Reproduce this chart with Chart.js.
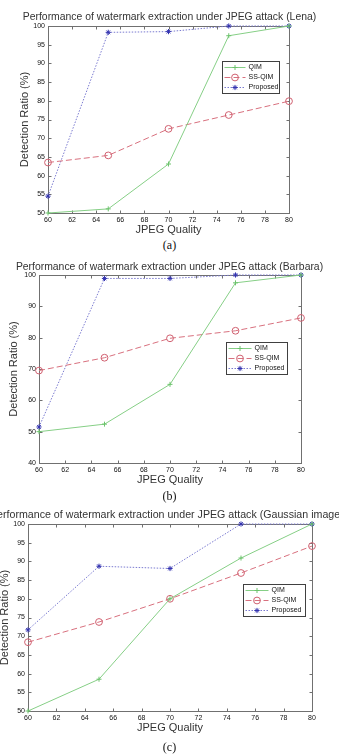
<!DOCTYPE html>
<html>
<head>
<meta charset="utf-8">
<script src="https://cdn.jsdelivr.net/npm/chart.js@4.4.1/dist/chart.umd.min.js"></script>
<style>
    html, body { margin: 0; padding: 0; background: #fff; width: 339px; height: 754px; overflow: hidden; }
    body { position: relative; }
    canvas { position: absolute; left: 0; }
    .cap { position: absolute; left: 0; width: 339px; text-align: center; font: 12px "Liberation Serif", "DejaVu Serif", serif; color: #111; line-height: 14px; }
</style>
</head>
<body>
<canvas id="chartA" width="339" height="238" style="top:0px"></canvas>
<div class="cap" style="top:238px">(a)</div>
<canvas id="chartB" width="339" height="236" style="top:254px"></canvas>
<div class="cap" style="top:489px">(b)</div>
<canvas id="chartC" width="359" height="235" style="top:503px;left:-10px"></canvas>
<div class="cap" style="top:740px">(c)</div>
<script>
/* ---- data ---- */
var jpegQuality = [60, 65, 70, 75, 80];
var seriesNames = ['QIM', 'SS-QIM', 'Proposed'];

var lenaQim      = [50, 51.1, 63.1, 97.4, 100];
var lenaSsQim    = [63.5, 65.4, 72.5, 76.2, 79.9];
var lenaProposed = [54.5, 98.3, 98.5, 100, 100];

var barbaraQim      = [50, 52.4, 65.1, 97.5, 100];
var barbaraSsQim    = [69.5, 73.6, 79.8, 82.2, 86.3];
var barbaraProposed = [51.5, 98.9, 98.9, 100, 100];

var gaussQim      = [50, 58.5, 80, 90.9, 100];
var gaussSsQim    = [68.4, 73.8, 80, 86.9, 94.1];
var gaussProposed = [71.7, 88.7, 88.1, 100, 100];

var xTicks = { min: 60, max: 80, step: 2 };

var FONT = '"Liberation Sans", Arial, sans-serif';

function pts(values) {
    return values.map(function (v, i) { return { x: jpegQuality[i], y: v }; });
}

/* box around the plot with inward ticks on all four sides (matlab look) */
var frameBox = {
    id: 'frameBox',
    beforeDatasetsDraw: function (chart) {
        var a = chart.chartArea, ctx = chart.ctx;
        var sx = chart.scales.x, sy = chart.scales.y;
        ctx.save();
        ctx.strokeStyle = '#707070';
        ctx.lineWidth = 1;
        var l = Math.round(a.left) + 0.5, t = Math.round(a.top) + 0.5;
        var r = Math.round(a.right) + 0.5, b = Math.round(a.bottom) + 0.5;
        ctx.strokeRect(l, t, r - l, b - t);
        ctx.beginPath();
        sx.ticks.forEach(function (tk) {
            var px = Math.round(sx.getPixelForValue(tk.value)) + 0.5;
            ctx.moveTo(px, b); ctx.lineTo(px, b - 3);
            ctx.moveTo(px, t); ctx.lineTo(px, t + 3);
        });
        sy.ticks.forEach(function (tk) {
            var py = Math.round(sy.getPixelForValue(tk.value)) + 0.5;
            ctx.moveTo(l, py); ctx.lineTo(l + 3, py);
            ctx.moveTo(r, py); ctx.lineTo(r - 3, py);
        });
        ctx.stroke();
        ctx.restore();
    }
};

/* legend box drawn inside the plot, line sample + marker like matlab */
var boxLegend = {
    id: 'boxLegend',
    afterDraw: function (chart, args, opts) {
        var a = chart.chartArea, ctx = chart.ctx;
        var sets = chart.data.datasets;
        var w = opts.width, rowH = 10, h = rowH * sets.length + 2;
        var right = Math.round(a.right - opts.right) + 0.5;
        var left = right - w;
        var top = Math.round(a.top + opts.top) + 0.5;
        ctx.save();
        ctx.fillStyle = '#fff';
        ctx.fillRect(left, top, w, h);
        ctx.strokeStyle = '#404040';
        ctx.lineWidth = 1;
        ctx.strokeRect(left, top, w, h);
        var lineLen = Math.round(w * 0.37);
        sets.forEach(function (ds, i) {
            var cy = top + 1 + rowH * (i + 0.5);
            ctx.strokeStyle = ds.borderColor;
            ctx.lineWidth = 1;
            ctx.setLineDash(ds.borderDash || []);
            ctx.beginPath();
            ctx.moveTo(left + 2, cy);
            ctx.lineTo(left + 2 + lineLen, cy);
            ctx.stroke();
            ctx.setLineDash([]);
            ctx.strokeStyle = ds.pointBorderColor || ds.borderColor;
            ctx.fillStyle = 'rgba(0,0,0,0)';
            Chart.helpers.drawPoint(ctx, {
                pointStyle: ds.pointStyle, radius: ds.pointRadius, rotation: 0, borderWidth: 1
            }, left + 2 + lineLen / 2, cy);
            ctx.fillStyle = '#111';
            ctx.font = '7px ' + FONT;
            ctx.textBaseline = 'middle';
            ctx.textAlign = 'left';
            ctx.fillText(ds.label, left + lineLen + 5, cy);
        });
        ctx.restore();
    }
};

function makeChart(id, title, qim, ss, prop, cfg) {
    var cv = document.getElementById(id);
    var W = cv.width, H = cv.height;
    var ts = cfg.titleSize || 10.4;
    return new Chart(cv.getContext('2d'), {
        type: 'line',
        data: {
            datasets: [
                { label: seriesNames[0], data: pts(qim), borderColor: '#86cf86', borderWidth: 1,
                  pointStyle: 'cross', pointRadius: 2.5, pointBorderColor: '#6cc36c', pointBorderWidth: 1,
                  tension: 0, clip: false },
                { label: seriesNames[1], data: pts(ss), borderColor: '#d8707e', borderWidth: 1,
                  borderDash: [6, 3], pointStyle: 'circle', pointRadius: 3.4,
                  pointBorderColor: '#d06070', pointBackgroundColor: 'rgba(0,0,0,0)', pointBorderWidth: 1,
                  tension: 0, clip: false },
                { label: seriesNames[2], data: pts(prop), borderColor: '#7a7ad0', borderWidth: 1,
                  borderDash: [1.5, 1.5], pointStyle: 'star', pointRadius: 2.6,
                  pointBorderColor: '#3434b0', pointBorderWidth: 1, tension: 0, clip: false }
            ]
        },
        options: {
            responsive: false,
            animation: false,
            layout: { padding: 0 },
            plugins: {
                legend: { display: false },
                tooltip: { enabled: false },
                title: {
                    display: true, text: title, color: '#333',
                    font: { family: FONT, size: ts, weight: 'normal', lineHeight: 1.2 },
                    padding: { top: cfg.titleY - ts * 0.6, bottom: cfg.plot.top - cfg.titleY - ts * 0.6 }
                },
                boxLegend: cfg.legend
            },
            scales: {
                x: {
                    type: 'linear', min: xTicks.min, max: xTicks.max,
                    grid: { display: false, drawTicks: false }, border: { display: false },
                    ticks: { stepSize: xTicks.step, padding: 3, color: '#111',
                             font: { family: FONT, size: 7 } },
                    title: { display: true, text: 'JPEG Quality', color: '#333',
                             font: { family: FONT, size: 11, lineHeight: 1.2 },
                             padding: { top: 0, bottom: H - cfg.xTitleY - 6.6 } },
                    afterFit: function (s) { s.height = H - cfg.plot.bottom; }
                },
                y: {
                    min: cfg.y.min, max: cfg.y.max,
                    grid: { display: false, drawTicks: false }, border: { display: false },
                    ticks: { stepSize: cfg.y.step, padding: 3, color: '#111',
                             font: { family: FONT, size: 7 } },
                    title: { display: true, text: 'Detection Ratio (%)', color: '#333',
                             font: { family: FONT, size: 11, lineHeight: 1.2 },
                             padding: { top: cfg.yTitleX - 6.6, bottom: 0 } },
                    afterFit: function (s) { s.width = cfg.plot.left; }
                },
                // empty right-hand axis, only reserves the margin so the title stays centred on the canvas
                yRight: {
                    position: 'right', min: cfg.y.min, max: cfg.y.max,
                    grid: { display: false, drawTicks: false }, border: { display: false },
                    ticks: { display: false },
                    afterFit: function (s) { s.width = W - cfg.plot.right; }
                }
            }
        },
        plugins: [frameBox, boxLegend]
    });
}

makeChart('chartA', 'Performance of watermark extraction under JPEG attack (Lena)',
    lenaQim, lenaSsQim, lenaProposed, {
        plot: { left: 48, top: 26, right: 289, bottom: 213 },
        titleY: 17, xTitleY: 230, yTitleX: 25,
        y: { min: 50, max: 100, step: 5 },
        legend: { right: 10, top: 35, width: 57 }
    });

makeChart('chartB', 'Performance of watermark extraction under JPEG attack (Barbara)',
    barbaraQim, barbaraSsQim, barbaraProposed, {
        plot: { left: 39, top: 21, right: 301, bottom: 209 },
        titleY: 13, xTitleY: 226, yTitleX: 14,
        y: { min: 40, max: 100, step: 10 },
        legend: { right: 14, top: 67, width: 61 }
    });

// canvas (c) is 20px wider and shifted left so its long title runs past the page edges like the original
makeChart('chartC', 'Performance of watermark extraction under JPEG attack (Gaussian images)',
    gaussQim, gaussSsQim, gaussProposed, {
        plot: { left: 38, top: 21, right: 322, bottom: 208 },
        titleY: 12, xTitleY: 225, yTitleX: 15, titleSize: 10.9,
        y: { min: 50, max: 100, step: 5 },
        legend: { right: 7, top: 60, width: 62 }
    });
</script>
</body>
</html>
